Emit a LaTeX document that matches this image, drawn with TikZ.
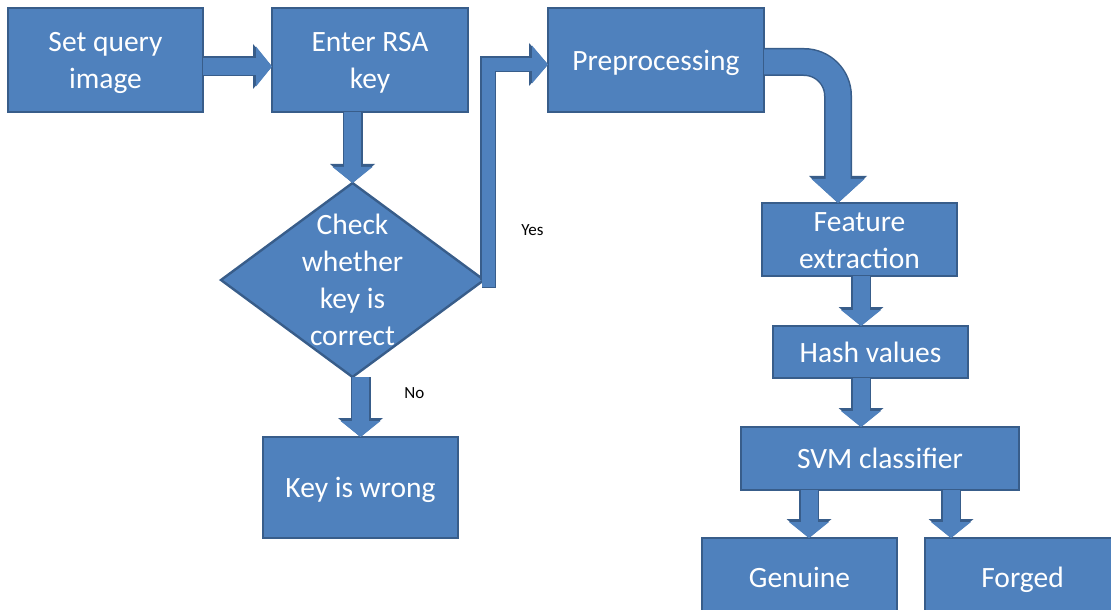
\documentclass[tikz,border=0pt]{standalone}
\usepackage{fontspec}
\setmainfont{Carlito}
\usepackage{xcolor}
\usepackage{tikz}
\usetikzlibrary{positioning, shapes, arrows.meta, shapes.geometric}

\definecolor{boxfill}{HTML}{4F81BD}
\definecolor{boxline}{HTML}{385D8A}
\newcommand{\boxstrut}{\rule[-0.269em]{0pt}{1.221em}}

\begin{document}
\begin{tikzpicture}[
    node distance=25pt,
    label/.style={text=white, align=center, inner sep=0pt, outer sep=0pt, font=\fontsize{14.75}{18.5}\selectfont,
        execute at begin node={\boxstrut}, execute at end node={\boxstrut}},
    block/.style={label, rectangle, draw=boxline, line width=1.2pt, fill=boxfill, minimum width=97.5pt},
    decision/.style={diamond, draw=boxline, line width=1.2pt, fill=boxfill, minimum width=131.5pt, minimum height=97pt, inner sep=0pt, outer sep=0pt},
    note/.style={inner sep=0pt, font=\fontsize{8.5}{10}\selectfont},
    flow/.style={draw=boxfill, line width=8.5pt, -{Triangle[width=20pt, length=8pt, line width=0pt]},
        preaction={draw=boxline, line width=10pt, -{Triangle[width=22.5pt, length=9.5pt, line width=0pt]}}},
    thinflow/.style={draw=boxfill, line width=6.5pt, -{Triangle[width=19pt, length=8pt, line width=0pt]},
        preaction={draw=boxline, line width=8pt, -{Triangle[width=21.5pt, length=9.5pt, line width=0pt]}}},
    bigflow/.style={draw=boxfill, line width=12.5pt, -{Triangle[width=26.5pt, length=12pt, line width=0pt]},
        preaction={draw=boxline, line width=14pt, -{Triangle[width=29pt, length=13.5pt, line width=0pt]}}}
]
\useasboundingbox (0,0) rectangle (555.5pt,-304.5pt);

% Top row
\node[block, minimum height=52pt] (img) at (52.75pt,-30pt) {\boxstrut Set query\\image};
\node[block, minimum width=98pt, minimum height=52pt, right=34.5pt of img] (rsa) {\boxstrut Enter RSA\\key};
\node[block, minimum width=108pt, minimum height=52pt, right=40pt of rsa] (pre) {Preprocessing};

% Key check
\node[decision, below=35.5pt of rsa, xshift=-8.75pt] (chk) {};
\node[label] (chktxt) at (chk) {\boxstrut Check\\whether\\key is\\correct};
\node[block, minimum height=50.5pt, below=30pt of chk, xshift=4pt] (wrong) {Key is wrong};
\node[note, right=18.5pt of chk.east, yshift=25pt] (yes) {Yes};
\node[note, right=25.75pt of chk.south, yshift=-8pt] (no) {No};

% Right column
\node[block, minimum height=35pt, below right=45.5pt and -1pt of pre] (feat) {\boxstrut Feature\\extraction};
\node[block, minimum height=26pt, below=25pt of feat, xshift=5.5pt] (hash) {Hash values};
\node[block, minimum width=139pt, minimum height=31.5pt, below=24.5pt of hash, xshift=4.75pt] (svm) {SVM classifier};
\node[block, minimum height=39pt, below=24pt of svm, xshift=-40.25pt] (gen) {Genuine};
\node[block, minimum height=39pt, below=24pt of svm, xshift=71.25pt] (forged) {Forged};

% Edges
\draw[flow] ([yshift=-3.25pt]img.east) -- ([yshift=-3.25pt]rsa.west);
\draw[flow] (chk.north |- rsa.south) -- (chk.north);
\draw[thinflow] ([xshift=-1pt]chk.east) -- ++(3pt,0) |- ([yshift=-2.25pt]pre.west);
\draw[flow] (wrong.north |- chk.south) -- (wrong.north);
\draw[bigflow, rounded corners=17pt] ([yshift=-1pt]pre.east) -| ([xshift=-10.75pt]feat.north);
\draw[flow] ([xshift=0.75pt]feat.south) -- ([xshift=0.75pt]feat.south |- hash.north);
\draw[flow] ([xshift=0.75pt]feat.south |- hash.south) -- ([xshift=0.75pt]feat.south |- svm.north);
\draw[flow] ([xshift=4.75pt]gen.north |- svm.south) -- ([xshift=4.75pt]gen.north);
\draw[flow] ([xshift=-35.75pt]forged.north |- svm.south) -- ([xshift=-35.75pt]forged.north);

\end{tikzpicture}
\end{document}
